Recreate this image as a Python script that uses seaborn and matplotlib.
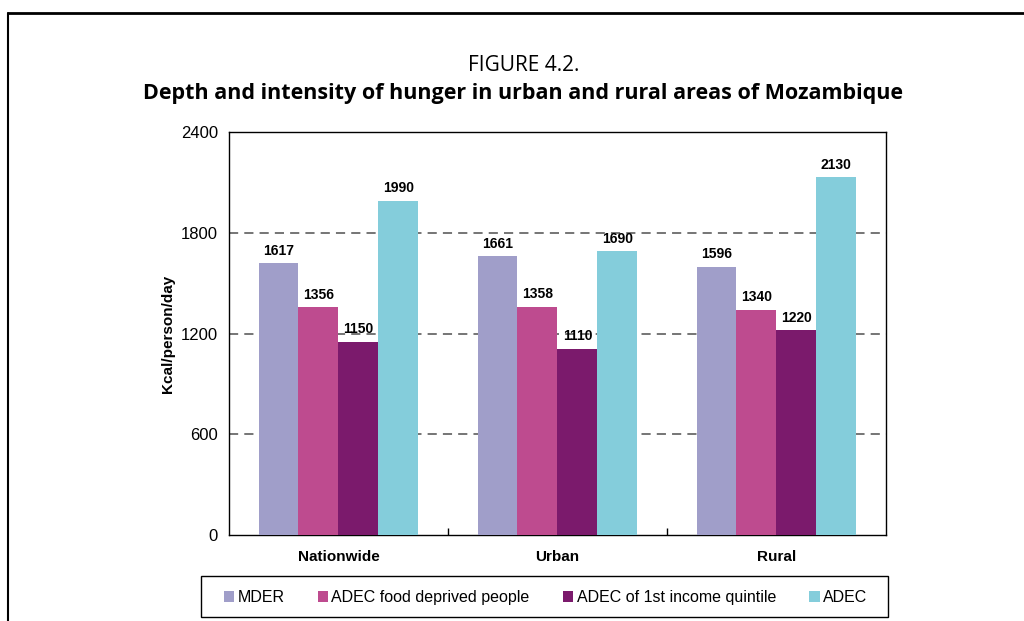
import numpy as np
import pandas as pd
import matplotlib
matplotlib.use("Agg")
import matplotlib.pyplot as plt
import seaborn as sns
from matplotlib.lines import Line2D
from matplotlib.patches import Patch, Rectangle

# данные с рисунка
regions = ["Nationwide", "Urban", "Rural"]
series = ["MDER", "ADEC food deprived people", "ADEC of 1st income quintile", "ADEC"]
mder = [1617, 1661, 1596]
adec_deprived = [1356, 1358, 1340]
adec_q1 = [1150, 1110, 1220]
adec = [1990, 1690, 2130]
colors = ["#A09EC9", "#BE4B8F", "#7B1A6C", "#84CDDB"]

df = pd.DataFrame({
    "region": regions * 4,
    "series": np.repeat(series, 3),
    "kcal": mder + adec_deprived + adec_q1 + adec,
})

sns.set_style("white")
plt.rcParams["font.family"] = ["Liberation Sans", "DejaVu Sans"]
for k in ["text.color", "axes.labelcolor", "xtick.color", "ytick.color"]:
    plt.rcParams[k] = "black"

fig = plt.figure(figsize=(10.24, 6.21), dpi=100)
ax = fig.add_axes([0.2236, 0.1385, 0.6416, 0.6489])

sns.barplot(data=df, x="region", y="kcal", hue="series", hue_order=series,
            palette=colors, width=0.73, saturation=1, linewidth=0,
            legend=False, ax=ax, zorder=3)

for c in ax.containers:
    ax.bar_label(c, fmt="%d", padding=4, fontsize=10, fontweight="bold")

ax.set_ylim(0, 2400)
ax.set_yticks([0, 600, 1200, 1800, 2400])
ax.set_xlim(-0.5, 2.5)
for y in [600, 1200, 1800]:
    ax.axhline(y, color="#505050", lw=1.1, ls=(0, (6, 4)), zorder=1)

ax.set_xlabel("")
ax.set_ylabel("Kcal/person/day", fontsize=11, fontweight="bold", labelpad=4)
ax.tick_params(axis="y", length=0, pad=8, labelsize=12)
ax.tick_params(axis="x", which="major", length=0, pad=11, labelsize=11)
for t in ax.get_xticklabels():
    t.set_fontweight("bold")
# засечки между группами
ax.set_xticks([0.5, 1.5], minor=True)
ax.tick_params(axis="x", which="minor", bottom=True, direction="in",
               length=5, width=1, color="black")
for s in ax.spines.values():
    s.set_color("black")
    s.set_linewidth(1)

fig.text(0.511, 0.895, "FIGURE 4.2.", ha="center", va="center", fontsize=15,
         family=["Open Sans", "DejaVu Sans"])
fig.text(0.511, 0.850, "Depth and intensity of hunger in urban and rural areas of Mozambique",
         ha="center", va="center", fontsize=15.5, fontweight="bold",
         family=["Open Sans", "DejaVu Sans"])

# легенда без рамки + отдельная рамка
handles = [Patch(facecolor=col, edgecolor="none") for col in colors]
leg = fig.legend(handles, series, loc="center", ncol=4,
                 bbox_to_anchor=(0.2188, 0.0175, 0.6279, 0.04), mode="expand",
                 frameon=False, fontsize=11.5,
                 handlelength=0.65, handleheight=0.65, handletextpad=0.2,
                 borderaxespad=0, borderpad=0)
fig.add_artist(Rectangle((201 / 1024, 1 - 617 / 621), 687 / 1024, 41 / 621,
                         transform=fig.transFigure, fill=False,
                         edgecolor="black", lw=1))

# внешняя рамка
fig.add_artist(Line2D([0.0078, 1.0], [0.979, 0.979], color="black", lw=2))
fig.add_artist(Line2D([0.0078, 0.0078], [0.0, 0.979], color="black", lw=1.5))

fig.savefig("out.png", dpi=100)
